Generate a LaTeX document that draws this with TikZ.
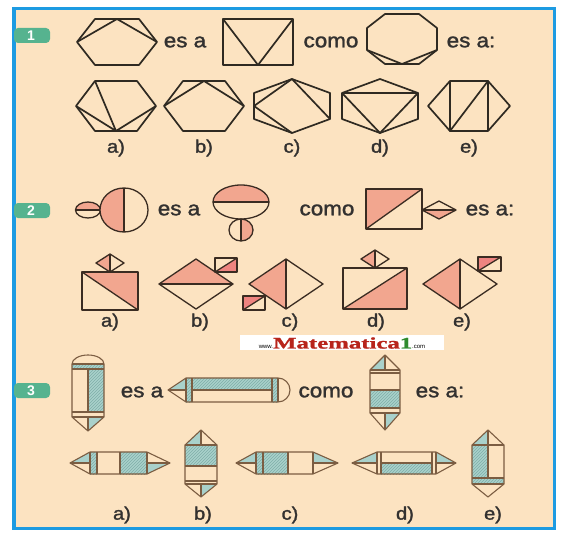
\documentclass[tikz,border=0pt]{standalone}
\usepackage{fontspec}
\setmainfont{Liberation Sans}
\newfontfamily\lblfont[FakeStretch=1.12,FakeBold=1.6]{Liberation Sans}
\newfontfamily\wmfont[FakeStretch=1.55,FakeBold=1.5]{Liberation Serif}
\usetikzlibrary{patterns}
\definecolor{frameblue}{HTML}{1D9BE2}
\definecolor{beige}{HTML}{FCE3C1}
\definecolor{badgec}{HTML}{56B38F}
\definecolor{ink}{HTML}{2F2A22}
\definecolor{inkb}{HTML}{3A2C22}
\definecolor{txt}{HTML}{333130}
\definecolor{pinkf}{HTML}{F2A68F}
\definecolor{pinkr}{HTML}{EE8480}
\definecolor{tealc}{HTML}{A9D1CB}
\definecolor{tealline}{HTML}{7FAEA8}
\definecolor{pencilc}{HTML}{7B5D42}
\definecolor{wmred}{HTML}{B8241B}
\definecolor{wmgreen}{HTML}{2E8B2E}
\tikzset{
  word/.style={font=\lblfont\fontsize{20}{20}\selectfont, text=txt, inner sep=0pt},
  optlabel/.style={font=\lblfont\fontsize{18}{18}\selectfont, text=txt, inner sep=0pt},
  badgebox/.style={fill=badgec, rounded corners=4pt},
  badgetxt/.style={font=\bfseries\fontsize{14}{14}\selectfont, text=white, inner sep=0pt},
  geo/.style={draw=ink, line width=1.7pt, line join=round},
  pz/.style={draw=inkb, line width=1.3pt, line join=round},
  pen/.style={draw=pencilc, line width=1.1pt, line join=round},
  hatch/.style={preaction={fill=tealc}, pattern=north east lines, pattern color=tealline},
}
\begin{document}
\begin{tikzpicture}[x=1pt,y=-1pt]
% background and frame
\fill[white] (0,0) rectangle (563,535);
\fill[beige] (14,9) rectangle (555,528);
\draw[frameblue, line width=3.5pt] (14,8.5) rectangle (554.5,528.5);
% badges
\fill[badgebox] (14,28) rectangle (50,43);
\node[badgetxt] (b1) at (31,35.5) {1};
\fill[badgebox] (14,203) rectangle (50,218);
\node[badgetxt] (b2) at (31,210.5) {2};
\fill[badgebox] (14,383) rectangle (50,398);
\node[badgetxt] (b3) at (31,390.5) {3};

%%%%%%%% ROW 1
\draw[geo] (77,42) -- (95,19) -- (139,19) -- (157,42) -- (139,65) -- (95,65) -- cycle;
\draw[geo] (77,42) -- (117,19) -- (157,42);
\node[word] (t1a) at (185,42) {es a};
\draw[geo] (223,19) rectangle (293,65);
\draw[geo] (223,19) -- (258,65) -- (293,19);
\node[word] (t1b) at (331,42) {como};
\draw[geo] (385,14) -- (419,14) -- (437,28) -- (437,50) -- (419,64) -- (385,64) -- (367,50) -- (367,28) -- cycle;
\draw[geo] (367,50) -- (402,64) -- (437,50);
\node[word] (t1c) at (471,42) {es a:};
% options
\draw[geo] (76,106) -- (95,81) -- (137,81) -- (156,106) -- (137,131) -- (95,131) -- cycle;
\draw[geo] (95,81) -- (116,131) (76,106) -- (116,131) -- (156,106);
\draw[geo] (164,106) -- (183,81) -- (225,81) -- (244,106) -- (225,131) -- (183,131) -- cycle;
\draw[geo] (164,106) -- (204,81) -- (244,106);
\draw[geo] (292,79) -- (330,93) -- (330,119) -- (292,133) -- (254,119) -- (254,93) -- cycle;
\draw[geo] (292,79) -- (254,106) -- (292,133) (292,79) -- (330,119);
\draw[geo] (380,79) -- (418,93) -- (418,119) -- (380,133) -- (342,119) -- (342,93) -- cycle;
\draw[geo] (342,93) -- (418,93) (342,93) -- (380,133) -- (418,93);
\draw[geo] (428,106) -- (450,81) -- (488,81) -- (510,106) -- (488,131) -- (450,131) -- cycle;
\draw[geo] (450,81) -- (450,131) -- (488,81) -- (488,131);
\node[optlabel] (l1a) at (116,148) {a)};
\node[optlabel] (l1b) at (204,148) {b)};
\node[optlabel] (l1c) at (292,148) {c)};
\node[optlabel] (l1d) at (380,148) {d)};
\node[optlabel] (l1e) at (469,148) {e)};

%%%%%%%% ROW 2
\fill[pinkf] (75.5,210) arc[start angle=180,end angle=360,x radius=12.5,y radius=8] -- cycle;
\draw[pz] (88,210) ellipse[x radius=12.5,y radius=8];
\draw[pz] (75.5,210) -- (100.5,210);
\fill[pinkf] (124,188) arc[start angle=270,end angle=90,x radius=24,y radius=22] -- cycle;
\draw[pz] (124,210) ellipse[x radius=24,y radius=22];
\draw[pz] (124,188) -- (124,232);
\node[word] (t2a) at (179,210) {es a};
\fill[pinkf] (213,202) arc[start angle=180,end angle=360,x radius=28,y radius=17] -- cycle;
\draw[pz] (241,202) ellipse[x radius=28,y radius=17];
\draw[pz] (213,202) -- (269,202);
\fill[pinkf] (241,219) arc[start angle=270,end angle=450,x radius=12,y radius=11] -- cycle;
\draw[pz] (241,230) ellipse[x radius=12,y radius=11];
\draw[pz] (241,219) -- (241,241);
\node[word] (t2b) at (327,210) {como};
\fill[pinkf] (366,229) -- (366,189) -- (422,189) -- cycle;
\draw[pz] (366,189) rectangle (422,229);
\draw[pz] (366,229) -- (422,189);
\fill[pinkf] (422,210) -- (456,210) -- (439,219) -- cycle;
\draw[pz] (422,210) -- (439,201) -- (456,210) -- (439,219) -- cycle;
\draw[pz] (422,210) -- (456,210);
\node[word] (t2c) at (490,210) {es a:};
% options
\fill[pinkf] (82,272) -- (138,272) -- (138,310) -- cycle;
\draw[pz] (82,272) rectangle (138,310);
\draw[pz] (82,272) -- (138,310);
\fill[pinkf] (110,254) -- (96,263) -- (110,272) -- cycle;
\draw[pz] (110,254) -- (124,263) -- (110,272) -- (96,263) -- cycle;
\draw[pz] (110,254) -- (110,272);
\fill[pinkf] (159,284) -- (196,259) -- (233,284) -- cycle;
\draw[pz] (159,284) -- (196,259) -- (233,284) -- (196,309) -- cycle;
\draw[pz] (159,284) -- (233,284);
\fill[pinkr] (215,272) -- (237,258) -- (237,272) -- cycle;
\draw[pz] (215,258) rectangle (237,272);
\draw[pz] (215,272) -- (237,258);
\fill[pinkf] (286,259) -- (249,284) -- (286,309) -- cycle;
\draw[pz] (249,284) -- (286,259) -- (323,284) -- (286,309) -- cycle;
\draw[pz] (286,259) -- (286,309);
\fill[pinkr] (243,296) -- (265,296) -- (243,310) -- cycle;
\draw[pz] (243,296) rectangle (265,310);
\draw[pz] (243,310) -- (265,296);
\fill[pinkf] (375,250) -- (361,259) -- (375,268) -- cycle;
\draw[pz] (375,250) -- (389,259) -- (375,268) -- (361,259) -- cycle;
\draw[pz] (375,250) -- (375,268);
\fill[pinkf] (343,309) -- (407,268) -- (407,309) -- cycle;
\draw[pz] (343,268) rectangle (407,309);
\draw[pz] (343,309) -- (407,268);
\fill[pinkf] (460,259) -- (423,284) -- (460,309) -- cycle;
\draw[pz] (423,284) -- (460,259) -- (497,284) -- (460,309) -- cycle;
\draw[pz] (460,259) -- (460,309);
\fill[pinkr] (478,271) -- (478,257) -- (501,257) -- cycle;
\draw[pz] (478,257) rectangle (501,271);
\draw[pz] (478,271) -- (501,257);
\node[optlabel] (l2a) at (110,322) {a)};
\node[optlabel] (l2b) at (200,322) {b)};
\node[optlabel] (l2c) at (290,322) {c)};
\node[optlabel] (l2d) at (376,322) {d)};
\node[optlabel] (l2e) at (462,322) {e)};
% watermark
\fill[white] (240,335) rectangle (444,350);
\node[inner sep=0pt] (wm) at (342,343) {{\fontsize{6}{6}\selectfont\color{black}www.}{\wmfont\bfseries\fontsize{16}{16}\selectfont\color{wmred}Matematica\color{wmgreen}1}{\fontsize{6}{6}\selectfont\color{black}.com}};

%%%%%%%% ROW 3
% stem 1 (vertical, cap top, cone bottom)
\path[hatch] (72,364) rectangle (104,369);
\path[hatch] (88,369) rectangle (104,412);
\fill[tealc] (88,417) -- (104,417) -- (88,431) -- cycle;
\draw[pen] (72,364) arc[start angle=180,end angle=360,x radius=16,y radius=9] -- (104,417) -- (88,431) -- (72,417) -- cycle;
\draw[pen] (72,364)--(104,364) (72,369)--(104,369) (72,412)--(104,412) (72,417)--(104,417);
\draw[pen] (88,369)--(88,412) (88,417)--(88,431);
\node[word] (t3a) at (142,392) {es a};
% stem 2 (horizontal, cone left, cap right)
\fill[tealc] (168,390) -- (186,378) -- (186,390) -- cycle;
\path[hatch] (186,378) rectangle (192,402);
\path[hatch] (192,378) rectangle (272,390);
\path[hatch] (272,378) rectangle (278,402);
\draw[pen] (168,390) -- (186,378) -- (278,378) arc[start angle=270,end angle=450,x radius=12,y radius=12] -- (186,402) -- cycle;
\draw[pen] (186,378)--(186,402) (192,378)--(192,402) (272,378)--(272,402) (278,378)--(278,402);
\draw[pen] (168,390)--(186,390) (192,390)--(272,390);
\node[word] (t3b) at (326,392) {como};
% stem 3 (vertical double cone)
\fill[tealc] (385,355) -- (370,370) -- (385,370) -- cycle;
\path[hatch] (370,390) rectangle (400,408);
\fill[tealc] (385,413) -- (400,413) -- (385,430) -- cycle;
\draw[pen] (385,355) -- (400,370) -- (400,413) -- (385,430) -- (370,413) -- (370,370) -- cycle;
\draw[pen] (370,370)--(400,370) (370,373)--(400,373) (370,390)--(400,390) (370,408)--(400,408) (370,413)--(400,413);
\draw[pen] (385,355)--(385,370) (385,413)--(385,430);
\node[word] (t3c) at (440,392) {es a:};
% option a
\path[hatch] (90,452) rectangle (97,474);
\path[hatch] (120,452) rectangle (147,474);
\fill[tealc] (70,463) -- (90,452) -- (90,463) -- cycle;
\fill[tealc] (147,463) -- (147,474) -- (170,463) -- cycle;
\draw[pen] (70,463) -- (90,452) -- (147,452) -- (170,463) -- (147,474) -- (90,474) -- cycle;
\draw[pen] (90,452)--(90,474) (97,452)--(97,474) (120,452)--(120,474) (147,452)--(147,474);
\draw[pen] (70,463)--(90,463) (147,463)--(170,463);
% option b
\fill[tealc] (201,430) -- (185,445) -- (201,445) -- cycle;
\path[hatch] (185,445) rectangle (217,466);
\fill[tealc] (201,484) -- (217,484) -- (201,497) -- cycle;
\draw[pen] (201,430) -- (217,445) -- (217,484) -- (201,497) -- (185,484) -- (185,445) -- cycle;
\draw[pen] (185,445)--(217,445) (185,466)--(217,466) (185,481)--(217,481) (185,484)--(217,484);
\draw[pen] (201,430)--(201,445) (201,484)--(201,497);
% option c
\fill[tealc] (236,463) -- (256,452) -- (256,463) -- cycle;
\path[hatch] (256,452) rectangle (288,474);
\fill[tealc] (313,452) -- (338,463) -- (313,463) -- cycle;
\draw[pen] (236,463) -- (256,452) -- (313,452) -- (338,463) -- (313,474) -- (256,474) -- cycle;
\draw[pen] (256,452)--(256,474) (263,452)--(263,474) (288,452)--(288,474) (313,452)--(313,474);
\draw[pen] (236,463)--(256,463) (313,463)--(338,463);
% option d
\fill[tealc] (352,463) -- (377,452) -- (377,463) -- cycle;
\path[hatch] (381,463) rectangle (432,474);
\fill[tealc] (436,452) -- (456,463) -- (436,463) -- cycle;
\draw[pen] (352,463) -- (377,452) -- (436,452) -- (456,463) -- (436,474) -- (377,474) -- cycle;
\draw[pen] (377,452)--(377,474) (381,452)--(381,474) (432,452)--(432,474) (436,452)--(436,474);
\draw[pen] (352,463)--(377,463) (381,463)--(432,463) (436,463)--(456,463);
% option e
\fill[tealc] (488,430) -- (472,445) -- (488,445) -- cycle;
\path[hatch] (472,445) rectangle (488,478);
\path[hatch] (472,478) rectangle (504,484);
\draw[pen] (488,430) -- (504,445) -- (504,484) -- (488,497) -- (472,484) -- (472,445) -- cycle;
\draw[pen] (472,445)--(504,445) (472,478)--(504,478) (472,484)--(504,484);
\draw[pen] (488,430)--(488,478);
\node[optlabel] (l3a) at (122,515) {a)};
\node[optlabel] (l3b) at (203,515) {b)};
\node[optlabel] (l3c) at (290,515) {c)};
\node[optlabel] (l3d) at (405,515) {d)};
\node[optlabel] (l3e) at (493,515) {e)};
\end{tikzpicture}
\end{document}
